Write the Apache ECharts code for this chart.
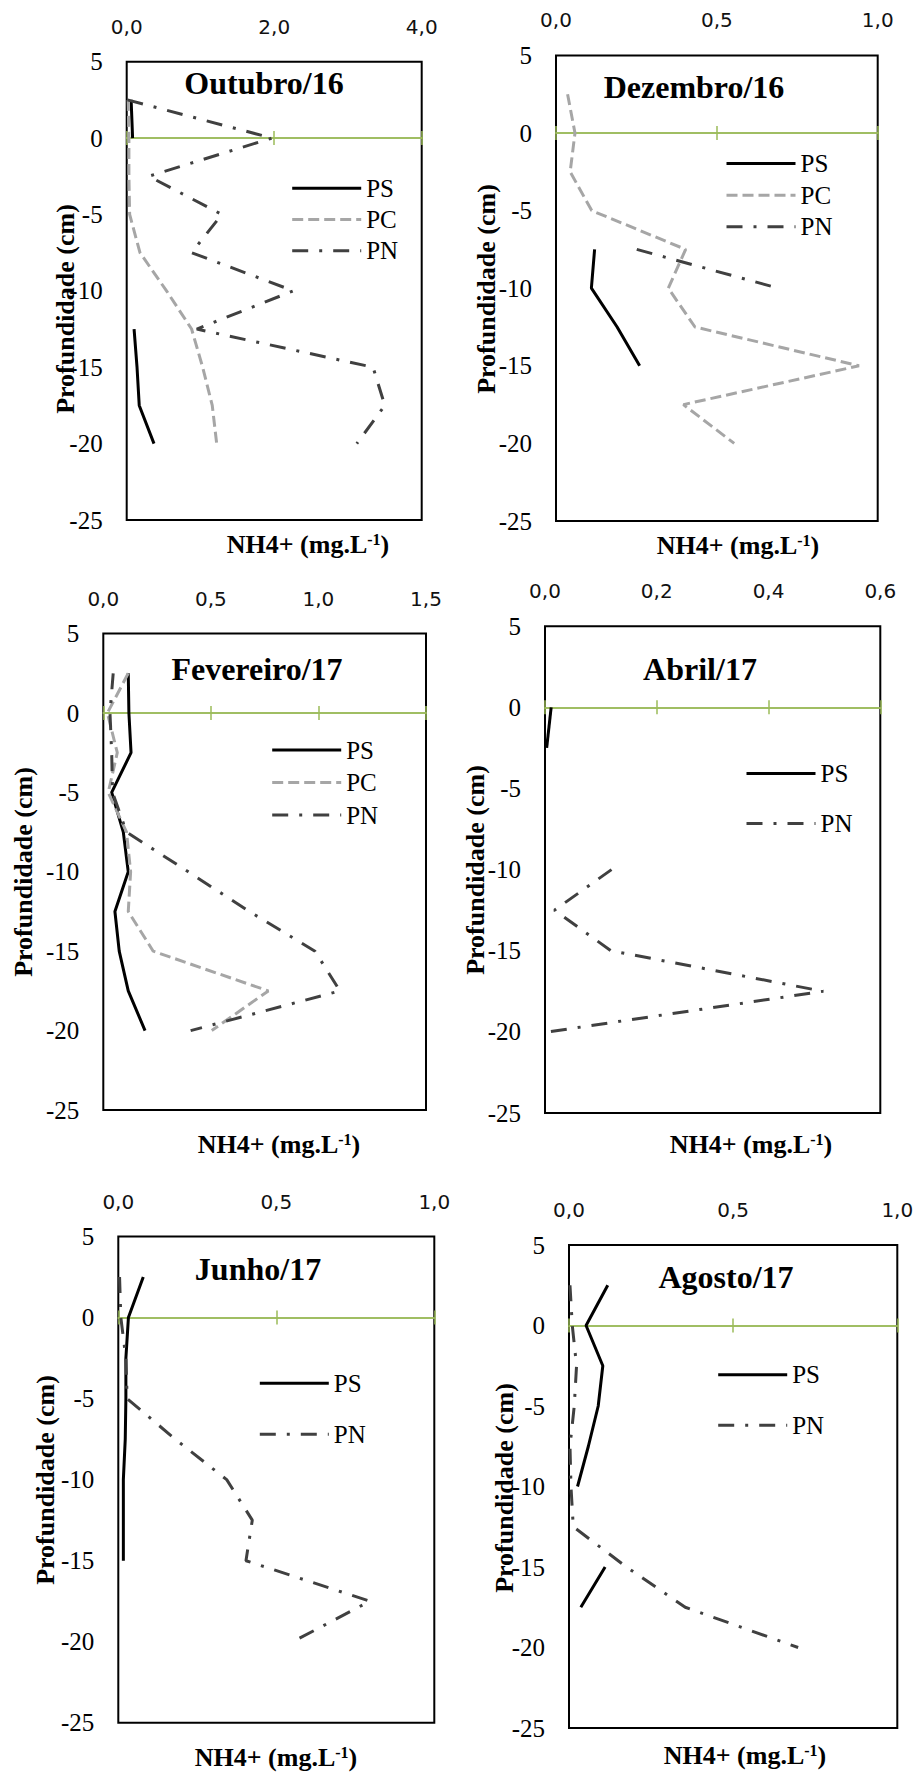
<!DOCTYPE html>
<html><head><meta charset="utf-8">
<script src="https://cdn.jsdelivr.net/npm/echarts@6/dist/echarts.min.js"></script>
<style>html,body{margin:0;padding:0;background:#fff}#c{width:915px;height:1773px}</style>
</head><body><div id="c"></div>
<script>
// ---------- data ----------
const depth = [2.5, 0, -2.5, -5, -7.5, -10, -12.5, -15, -17.5, -20];
const panelTitles = ['Outubro/16', 'Dezembro/16', 'Fevereiro/17', 'Abril/17', 'Junho/17', 'Agosto/17'];
const xMax = [4, 1, 1.5, 0.6, 1, 1];
const xStep = [2, 0.5, 0.5, 0.2, 0.5, 0.5];
const yMin = -25, yMax = 5, yStep = 5;
const yName = 'Profundidade (cm)';

const out16PS = [0.06, 0.08, null, null, null, null, 0.10, 0.14, 0.17, 0.37];
const out16PC = [0.02, 0.03, 0.03, 0.04, 0.18, 0.54, 0.88, 1.03, 1.16, 1.22];
const out16PN = [0.01, 1.97, 0.30, 1.29, 0.88, 2.26, 0.95, 3.34, 3.50, 3.12];

const dez16PS = [null, null, null, null, 0.12, 0.11, 0.19, 0.26, null, null];
const dez16PC = [0.036, 0.059, 0.044, 0.111, 0.403, 0.349, 0.432, 0.942, 0.396, 0.554];
const dez16PN = [null, null, null, null, 0.251, 0.691, null, null, null, null];

const fev17PS = [0.116, 0.119, 0.129, 0.039, 0.093, 0.116, 0.054, 0.074, 0.116, 0.194];
const fev17PC = [0.116, 0.019, 0.065, 0.023, 0.108, 0.127, 0.116, 0.232, 0.767, 0.504];
const fev17PN = [0.046, 0.031, 0.039, 0.043, 0.108, 0.395, 0.679, 0.984, 1.10, 0.406];

const abr17PS = [null, 0.011, 0.003, null, null, null, null, null, null, null];
const abr17PN = [null, null, null, null, null, 0.119, 0.017, 0.118, 0.498, 0.006];

const jun17PS = [0.079, 0.032, 0.024, 0.024, 0.022, 0.016, 0.016, 0.016, null, null];
const jun17PN = [0.004, 0.008, 0.024, 0.028, 0.18, 0.343, 0.424, 0.404, 0.796, 0.552];

const ago17PS = [0.118, 0.052, 0.103, 0.089, 0.059, 0.026, null, 0.110, 0.036, null];
const ago17PN = [0.003, 0.010, 0.023, 0.016, 0.003, 0.006, 0.013, 0.175, 0.354, 0.698];

const panelSeries = [
  [['PS', out16PS], ['PC', out16PC], ['PN', out16PN]],
  [['PS', dez16PS], ['PC', dez16PC], ['PN', dez16PN]],
  [['PS', fev17PS], ['PC', fev17PC], ['PN', fev17PN]],
  [['PS', abr17PS], ['PN', abr17PN]],
  [['PS', jun17PS], ['PN', jun17PN]],
  [['PS', ago17PS], ['PN', ago17PN]]
];

// ---------- layout & style ----------
const boxes = [
  {l: 126.7, t: 61.7, r: 421.7, b: 520},
  {l: 556, t: 55.4, r: 877.7, b: 521},
  {l: 103.3, t: 633.6, r: 426, b: 1110},
  {l: 545, t: 626.2, r: 880.3, b: 1113},
  {l: 118.3, t: 1236.5, r: 434.3, b: 1722.8},
  {l: 569, t: 1245, r: 897.3, b: 1728}
];
const titlePos = [[264, 82.5], [694, 87], [257, 669], [700, 669], [258, 1269], [726, 1277]];
const xNamePos = [[308, 544], [738, 545], [279, 1144], [751, 1144], [276, 1757], [745, 1755]];
const yNamePos = [[65, 309], [486, 289], [23, 872], [475, 870], [45, 1480], [504, 1488]];
const legendPos = [
  {x: 290.7, c: 188.3, s: 31.2},
  {x: 725, c: 163.6, s: 31.6},
  {x: 270.7, c: 750.1, s: 32.5},
  {x: 745, c: 773.4, s: 50},
  {x: 258.3, c: 1383.3, s: 51},
  {x: 716.7, c: 1374.8, s: 50.5}
];
const lineStyles = {
  PS: {color: '#000000', type: 'solid', width: 3},
  PC: {color: '#A6A6A6', type: [11, 5], width: 3},
  PN: {color: '#404040', type: [16, 11, 3, 11], width: 3}
};
const GREEN = '#9BBB59';
const SERIF = 'Liberation Serif';

const fmt = v => v.toFixed(1).replace('.', ',');

const grid = [], xAxis = [], yAxis = [], series = [], legend = [], graphic = [];

boxes.forEach((b, i) => {
  grid.push({
    left: b.l, top: b.t, width: b.r - b.l, height: b.b - b.t,
    show: true, borderColor: '#000', borderWidth: 2, backgroundColor: 'transparent',
    containLabel: false, outerBoundsMode: 'none'
  });
  // top axis with labels
  xAxis.push({
    type: 'value', gridIndex: i, position: 'top', min: 0, max: xMax[i], interval: xStep[i],
    axisLine: {show: false, onZero: false}, axisTick: {show: false}, splitLine: {show: false},
    axisLabel: {show: true, formatter: fmt, fontFamily: 'DejaVu Sans', fontSize: 20, color: '#111', margin: 25,
      showMinLabel: true, showMaxLabel: true}
  });
  // zero line, ticks up
  xAxis.push({
    type: 'value', gridIndex: i, position: 'bottom', min: 0, max: xMax[i], interval: xStep[i],
    axisLine: {show: true, onZero: true, onZeroAxisIndex: i, lineStyle: {color: GREEN, width: 1.5}},
    axisTick: {show: true, inside: true, length: 7, lineStyle: {color: GREEN, width: 1.5}},
    axisLabel: {show: false}, splitLine: {show: false}
  });
  // zero line, ticks down
  xAxis.push({
    type: 'value', gridIndex: i, position: 'bottom', min: 0, max: xMax[i], interval: xStep[i],
    axisLine: {show: true, onZero: true, onZeroAxisIndex: i, lineStyle: {color: GREEN, width: 1.5}},
    axisTick: {show: true, inside: false, length: 7, lineStyle: {color: GREEN, width: 1.5}},
    axisLabel: {show: false}, splitLine: {show: false}
  });
  yAxis.push({
    type: 'value', gridIndex: i, min: yMin, max: yMax, interval: yStep,
    axisLine: {show: false}, axisTick: {show: false}, splitLine: {show: false},
    axisLabel: {fontFamily: SERIF, fontSize: 25, color: '#000', margin: 24}
  });

  const names = [];
  panelSeries[i].forEach(([name, vals]) => {
    names.push(name);
    series.push({
      type: 'line', name: name, xAxisIndex: 3 * i, yAxisIndex: i,
      symbol: 'none', showSymbol: false, connectNulls: false, animation: false,
      lineStyle: Object.assign({}, lineStyles[name]),
      itemStyle: {color: lineStyles[name].color},
      data: depth.map((d, k) => [vals[k] == null ? '-' : vals[k], d])
    });
  });

  const lp = legendPos[i];
  legend.push({
    orient: 'vertical', left: lp.x, top: lp.c - 12.5, padding: 0,
    itemWidth: 69, itemHeight: 14, itemGap: lp.s - 25, itemTextGap: 6,
    selectedMode: false, data: names,
    itemStyle: {opacity: 0},
    lineStyle: {width: 3},
    textStyle: {fontFamily: SERIF, fontSize: 25, color: '#000'}
  });

  graphic.push({
    type: 'text', x: titlePos[i][0], y: titlePos[i][1], silent: true,
    style: {text: panelTitles[i], fontFamily: SERIF, fontSize: 32, fontWeight: 'bold', fill: '#000',
      align: 'center', verticalAlign: 'middle'}
  });
  graphic.push({
    type: 'text', x: xNamePos[i][0], y: xNamePos[i][1], silent: true,
    style: {text: 'NH4+ (mg.L{sup|-1})', fontFamily: SERIF, fontSize: 26, fontWeight: 'bold', fill: '#000',
      align: 'center', verticalAlign: 'middle',
      rich: {sup: {fontFamily: SERIF, fontSize: 16, fontWeight: 'bold', fill: '#000', verticalAlign: 'top', lineHeight: 26}}}
  });
  graphic.push({
    type: 'text', x: yNamePos[i][0], y: yNamePos[i][1], rotation: Math.PI / 2, silent: true,
    style: {text: yName, fontFamily: SERIF, fontSize: 26, fontWeight: 'bold', fill: '#000',
      align: 'center', verticalAlign: 'middle'}
  });
});

const chart = echarts.init(document.getElementById('c'), null, {renderer: 'svg'});
chart.setOption({
  animation: false,
  backgroundColor: '#ffffff',
  grid, xAxis, yAxis, series, legend, graphic
});
</script>
</body></html>
